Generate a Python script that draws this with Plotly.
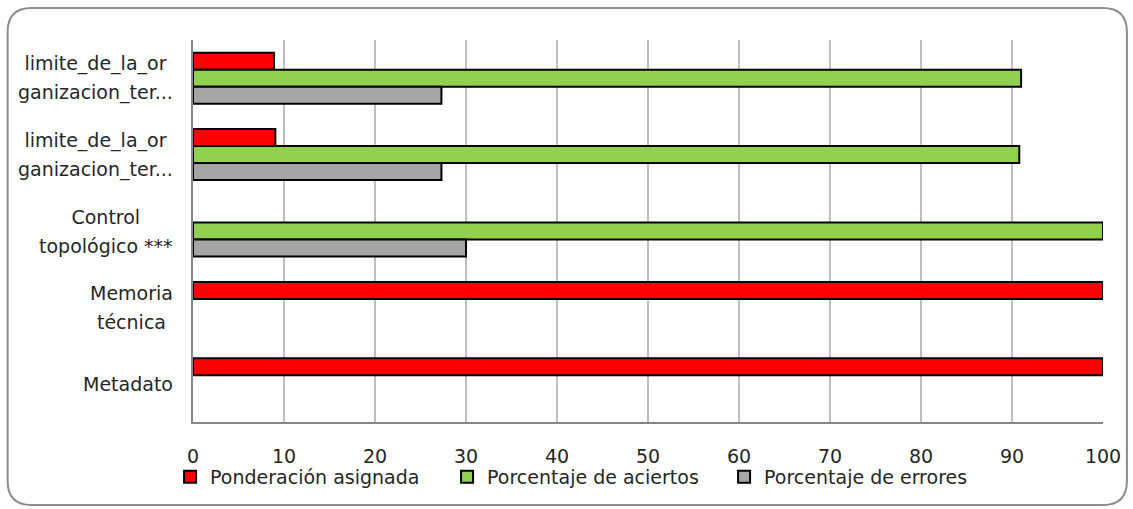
import plotly.graph_objects as go

# ---- data ----
categories = [
    "limite_de_la_or<br>ganizacion_ter...",
    "limite_de_la_or<br>ganizacion_ter...",
    "Control<br>topológico ***",
    "Memoria<br>técnica",
    "Metadato",
]
ponderacion = [8.9, 9.05, None, 100, 100]
aciertos = [91.0, 90.8, 100, None, None]
errores = [27.3, 27.3, 30, None, None]
series_names = ["Ponderación asignada", "Porcentaje de aciertos", "Porcentaje de errores"]
x_ticks = [0, 10, 20, 30, 40, 50, 60, 70, 80, 90, 100]

# ---- layout helpers ----
W, H = 1133, 509
L, R, T, B = 193, 27, 40, 87
PW, PH = W - L - R, H - T - B


def px_x(px):
    return (px - L) / PW


def px_y(py):
    return (H - B - py) / PH


colors = ["#FF0000", "#92D050", "#A5A5A5"]
FONT = "DejaVu Sans"
TXT = "#262626"

ypos = list(range(len(categories)))

fig = go.Figure()
for name, vals, col in zip(series_names, [ponderacion, aciertos, errores], colors):
    fig.add_trace(go.Bar(
        y=ypos, x=vals, name=name, orientation="h",
        marker=dict(color=col, line=dict(color="black", width=2)),
    ))

# category labels: centered lines in a right-aligned block, wider line spacing
annotations = []
for i, c in enumerate(categories):
    lines = c.split("<br>")
    txt = "<br>".join(f"<span style='font-size:19px'>{ln}</span>" for ln in lines)
    annotations.append(dict(
        xref="paper", yref="y", x=px_x(175), y=ypos[i],
        text=txt, showarrow=False, xanchor="right", yanchor="middle",
        align="center", font=dict(family=FONT, size=22, color=TXT),
    ))

# rounded outer border
x0, x1, y0, y1, r = 7, 1130, 8, 505, 24
path = (
    f"M {px_x(x0 + r)},{px_y(y0)} L {px_x(x1 - r)},{px_y(y0)} "
    f"Q {px_x(x1)},{px_y(y0)} {px_x(x1)},{px_y(y0 + r)} "
    f"L {px_x(x1)},{px_y(y1 - r)} "
    f"Q {px_x(x1)},{px_y(y1)} {px_x(x1 - r)},{px_y(y1)} "
    f"L {px_x(x0 + r)},{px_y(y1)} "
    f"Q {px_x(x0)},{px_y(y1)} {px_x(x0)},{px_y(y1 - r)} "
    f"L {px_x(x0)},{px_y(y0 + r)} "
    f"Q {px_x(x0)},{px_y(y0)} {px_x(x0 + r)},{px_y(y0)} Z"
)

fig.update_layout(
    width=W, height=H,
    margin=dict(l=L, r=R, t=T, b=B, pad=0),
    paper_bgcolor="white", plot_bgcolor="white",
    barmode="group", bargap=0.333, bargroupgap=0,
    font=dict(family=FONT, size=19, color=TXT),
    showlegend=True,
    legend=dict(
        orientation="h", x=px_x(170), y=px_y(477), xanchor="left", yanchor="middle",
        font=dict(family=FONT, size=19, color=TXT),
        entrywidth=232, entrywidthmode="pixels",
        bgcolor="rgba(0,0,0,0)", itemwidth=30,
    ),
    annotations=annotations,
    shapes=[dict(type="path", xref="paper", yref="paper", path=path,
                 line=dict(color="#8C8C8C", width=2), fillcolor="rgba(0,0,0,0)", layer="below")],
    xaxis=dict(
        range=[0, 100], tickvals=x_ticks, ticktext=[str(t) for t in x_ticks],
        showgrid=True, gridcolor="#BFBFBF", gridwidth=2,
        showline=True, linecolor="#868686", linewidth=2,
        zeroline=False, ticks="", ticklabelstandoff=16,
        tickfont=dict(family=FONT, size=19, color=TXT), fixedrange=True,
    ),
    yaxis=dict(
        range=[len(categories) - 0.5, -0.5], tickvals=ypos, showticklabels=False,
        showgrid=False, zeroline=False,
        showline=True, linecolor="#868686", linewidth=2, ticks="", fixedrange=True,
    ),
)

fig.write_html("out.html")
